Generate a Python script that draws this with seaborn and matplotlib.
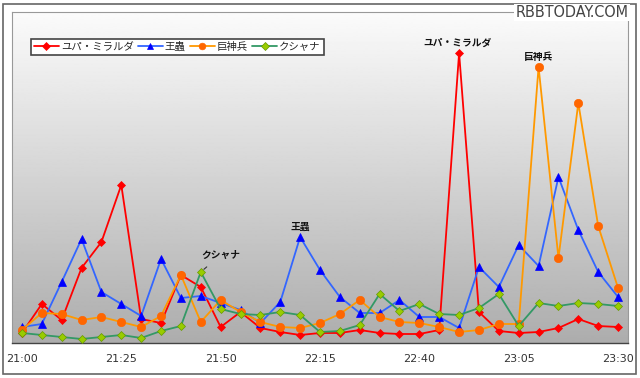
import numpy as np
import pandas as pd
import matplotlib
matplotlib.use("Agg")
import matplotlib.pyplot as plt
from matplotlib.patches import Rectangle
import seaborn as sns

# data (relative units, every 5 minutes 21:00-23:30)
times = pd.date_range("21:00", "23:30", freq="5min").strftime("%H:%M").tolist()
yupa = [10, 39, 23, 75, 101, 158, 24, 20, 68, 56, 16, 31, 15, 11, 8, 10,
        10, 13, 10, 9, 9, 13, 290, 31, 12, 10, 11, 15, 24, 17, 16]
ohmu = [16, 19, 61, 104, 51, 39, 27, 84, 45, 47, 40, 33, 20, 41, 106, 73,
        46, 30, 30, 43, 26, 26, 15, 76, 56, 98, 77, 166, 113, 71, 46]
kyoshinhei = [13, 30, 29, 23, 26, 21, 16, 27, 68, 21, 43, 31, 21, 16, 15, 20,
              29, 43, 26, 21, 20, 16, 11, 13, 19, 19, 276, 85, 240, 117, 55]
kushana = [10, 8, 6, 4, 6, 8, 5, 12, 17, 71, 34, 29, 28, 31, 28, 11,
           12, 18, 49, 32, 39, 29, 28, 35, 49, 17, 40, 37, 40, 39, 37]
names = ["ユパ・ミラルダ", "王蟲", "巨神兵", "クシャナ"]

df = pd.DataFrame({"idx": range(len(times)), names[0]: yupa, names[1]: ohmu,
                   names[2]: kyoshinhei, names[3]: kushana})

sns.set_style("white")
plt.rcParams["font.family"] = ["Noto Sans CJK JP", "DejaVu Sans"]

fig = plt.figure(figsize=(6.4, 3.78), dpi=100)
ax = fig.add_axes([12/640, 35/378, 616/640, 331/378])

# gray gradient background
grad = np.linspace(1, 0, 256).reshape(-1, 1)
ax.imshow(grad, extent=[-0.5, 30.5, 0, 331], aspect="auto", cmap="gray",
          vmin=-2.2, vmax=1.05, zorder=0)

styles = {
    names[0]: dict(color="#ff0000", marker="D", ms=4.5, mfc="#ff0000", mec="#ff0000"),
    names[1]: dict(color="#3366ff", marker="^", ms=6, mfc="#0000ff", mec="#0000ff"),
    names[2]: dict(color="#ff9900", marker="o", ms=6, mfc="#ff6600", mec="#ff6600"),
    names[3]: dict(color="#339966", marker="D", ms=4.5, mfc="#99cc00", mec="#669900"),
}
for n in names:
    s = styles[n]
    sns.lineplot(data=df, x="idx", y=n, ax=ax, color=s["color"], lw=1.3,
                 marker=s["marker"], markersize=s["ms"], markerfacecolor=s["mfc"],
                 markeredgecolor=s["mec"], markeredgewidth=0.5, label=n, zorder=3)

ax.set_xlim(-0.5, 30.5)
ax.set_ylim(0, 331)
ax.set_xlabel("")
ax.set_ylabel("")
ax.set_yticks([])
ax.set_xticks(range(0, 31, 5))
ax.set_xticklabels(times[::5], fontsize=8, color="#333333", family="DejaVu Sans")
ax.set_xticks(np.arange(-0.5, 31, 1), minor=True)
ax.tick_params(axis="x", which="major", length=0, pad=8)
ax.tick_params(axis="x", which="minor", direction="in", length=5, color="#555555", width=0.8)
for side in ["top", "left", "right"]:
    ax.spines[side].set_color("#999999")
    ax.spines[side].set_linewidth(0.8)
ax.spines["bottom"].set_color("#444444")
ax.spines["bottom"].set_linewidth(1.0)

leg = ax.legend(loc="upper left", bbox_to_anchor=(0.022, 0.935), ncol=4, fontsize=7.5,
                frameon=True, fancybox=False, handlelength=2.4, handletextpad=0.2,
                columnspacing=0.4, borderpad=0.3, markerscale=0.8)
leg.get_frame().set_edgecolor("#444444")
leg.get_frame().set_linewidth(1.2)
leg.get_frame().set_facecolor("white")
leg.get_frame().set_alpha(1)

tkw = dict(fontsize=7, fontweight="bold", ha="center", va="center", color="#111111")
ax.text(21.9, 300, names[0], **tkw)
ax.text(26.0, 286, names[2], **tkw)
ax.text(14.0, 116, names[1], **tkw)
ax.annotate(names[3], xy=(9, 71), xytext=(10.0, 88), **tkw,
            arrowprops=dict(arrowstyle="-", color="#333333", lw=0.8, shrinkA=4, shrinkB=3))

fig.text(0.982, 0.967, "RBBTODAY.COM", ha="right", va="center", fontsize=11.5,
         family="DejaVu Sans", fontstretch="condensed", fontweight="light", color="#444444",
         bbox=dict(facecolor="white", edgecolor="none", pad=1))

fig.add_artist(Rectangle((3/640, 4/378), 633/640, 370/378, transform=fig.transFigure,
                         fill=False, edgecolor="#666666", lw=1.2))

fig.savefig("out.png", dpi=100)
